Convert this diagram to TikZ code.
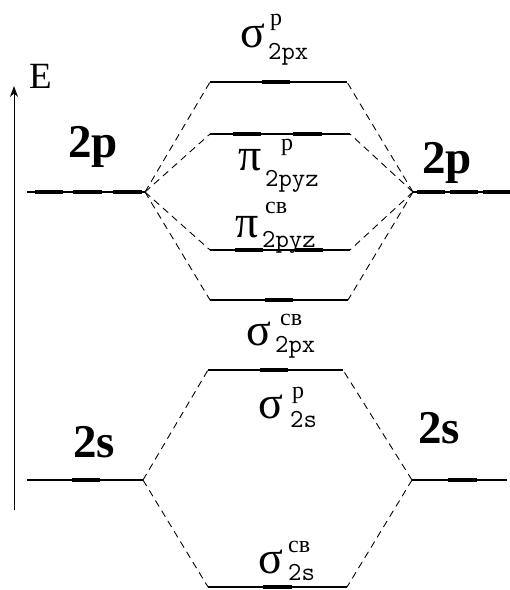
\documentclass[tikz,border=0pt]{standalone}
\usepackage{fontspec}
\setmainfont{Liberation Serif}
\newfontfamily\cyrfont{Liberation Serif}
\usetikzlibrary{arrows.meta}
\tikzset{
 lvl/.style={line width=1.1pt},
 occ/.style={line width=4pt},
 conn/.style={line width=0.9pt, dash pattern=on 7pt off 5pt},
 bigsym/.style={anchor=base west, inner sep=0pt, font=\fontsize{46}{46}\selectfont},
 scr/.style={anchor=base west, inner sep=0pt, font=\ttfamily\fontsize{26}{26}\selectfont},
 cyr/.style={anchor=base west, inner sep=0pt, font=\cyrfont\fontsize{24}{24}\selectfont},
 orb/.style={anchor=base west, inner sep=0pt, font=\bfseries\fontsize{47}{47}\selectfont},
}
\begin{document}
\begin{tikzpicture}[x=1pt,y=-1pt]
\useasboundingbox (0,0) rectangle (510,590);
% energy axis
\coordinate (ax0) at (14,510);
\coordinate (ax1) at (14,86);
\draw[line width=1pt,-{Stealth[length=11pt,width=8pt]}] (ax0) -- (ax1);
\node[anchor=base west, inner sep=0pt, font=\fontsize{37}{37}\selectfont] (E) at (29,88) {E};

% atomic levels
\coordinate (pLa) at (27,192);  \coordinate (pLb) at (145,192);
\coordinate (pRa) at (413,192); \coordinate (pRb) at (510,192);
\coordinate (sLa) at (27,480);  \coordinate (sLb) at (143,480);
\coordinate (sRa) at (412,480); \coordinate (sRb) at (507,480);
% molecular levels
\coordinate (m1a) at (210,82);  \coordinate (m1b) at (347,82);
\coordinate (m2a) at (210,134); \coordinate (m2b) at (350,134);
\coordinate (m3a) at (210,250); \coordinate (m3b) at (350,250);
\coordinate (m4a) at (210,300); \coordinate (m4b) at (348,300);
\coordinate (m5a) at (208,370); \coordinate (m5b) at (343,370);
\coordinate (m6a) at (208,587); \coordinate (m6b) at (347,587);

\foreach \a/\b in {pLa/pLb,pRa/pRb,sLa/sLb,sRa/sRb,m1a/m1b,m2a/m2b,m3a/m3b,m4a/m4b,m5a/m5b,m6a/m6b}
  \draw[lvl] (\a) -- (\b);

% electrons (thick segments)
\foreach \x/\y/\w in {35/192/28,73/192/29,113/192/29,417/192/28,450/192/28,483/192/27,
  262/82/28,233/134/28,293/134/29,235/250/28,295/250/28,265/300/28,260/370/28,
  72/480/28,448/480/29,263/587/29}
  \draw[occ] (\x,\y) -- ++(\w,0);

% correlation lines
\foreach \m in {m1a,m2a,m3a,m4a} \draw[conn] (pLb) -- (\m);
\foreach \m in {m1b,m2b,m3b,m4b} \draw[conn] (pRa) -- (\m);
\foreach \m in {m5a,m6a} \draw[conn] (sLb) -- (\m);
\foreach \m in {m5b,m6b} \draw[conn] (sRa) -- (\m);

% atomic labels
\node[orb] (l2pL) at (68,157) {2p};
\node[orb] (l2pR) at (422,173) {2p};
\node[orb] (l2sL) at (73,457) {2s};
\node[orb] (l2sR) at (418,443) {2s};

% MO labels
\node[bigsym] (s1) at (240,47) {σ};
\node[cyr] (s1u) at (270,25) {р};
\node[scr] (s1d) at (268,59) {2px};

\node[bigsym] (p2) at (238,170) {π};
\node[cyr] (p2u) at (281,150) {р};
\node[scr] (p2d) at (265,186) {2pyz};

\node[bigsym] (p3) at (235,237) {π};
\node[cyr] (p3u) at (265,213) {св};
\node[scr] (p3d) at (262,247) {2pyz};

\node[bigsym] (s4) at (246,345) {σ};
\node[cyr] (s4u) at (280,325) {св};
\node[scr] (s4d) at (275,352) {2px};

\node[bigsym] (s5) at (258,418) {σ};
\node[cyr] (s5u) at (292,398) {р};
\node[scr] (s5d) at (290,427) {2s};

\node[bigsym] (s6) at (258,573) {σ};
\node[cyr] (s6u) at (288,552) {св};
\node[scr] (s6d) at (288,580) {2s};
\end{tikzpicture}
\end{document}
